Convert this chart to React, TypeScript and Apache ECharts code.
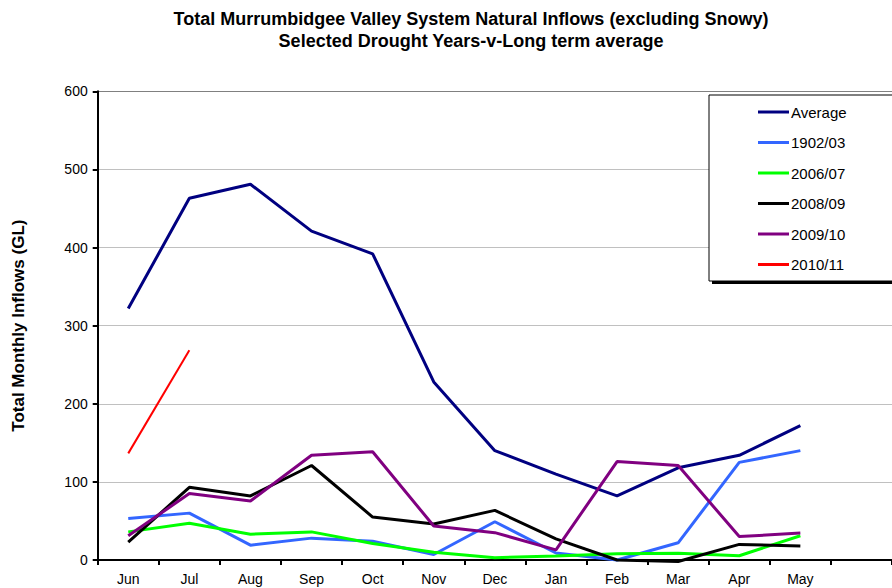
import React, { useEffect, useRef } from "react";
import * as echarts from "echarts";

const months = ["Jun", "Jul", "Aug", "Sep", "Oct", "Nov", "Dec", "Jan", "Feb", "Mar", "Apr", "May", ""];
const yTicks = [0, 100, 200, 300, 400, 500, 600];

const average = [322, 463, 481, 421, 392, 228, 140, 110, 82, 118, 134, 172];
const y1902 = [53, 60, 19, 28, 24, 7, 49, 9, 0, 22, 125, 140];
const y2006 = [36, 47, 33, 36, 21, 10, 3, 5, 8, 8.5, 5.5, 31];
const y2008 = [23, 93, 82, 121, 55, 46, 63.5, 27, 0, -2, 20, 18];
const y2009 = [31, 85, 75.5, 134, 138.5, 43.5, 35, 13, 126, 121, 30, 34.5];
const y2010 = [136.5, 268.6];

const seriesNames = ["Average", "1902/03", "2006/07", "2008/09", "2009/10", "2010/11"];
const seriesColors = ["#000080", "#3366FF", "#00FF00", "#000000", "#800080", "#FF0000"];
const seriesWidths = [3, 3, 3, 3, 3, 2];
const seriesData = [average, y1902, y2006, y2008, y2009, y2010];

export default function App() {
  const ref = useRef<HTMLDivElement>(null);
  useEffect(() => {
    document.body.style.margin = "0";
    if (!ref.current) return;
    const chart = echarts.init(ref.current, undefined, { renderer: "svg" });
    const font = "Arial, 'Liberation Sans', sans-serif";
    chart.setOption({
      animation: false,
      backgroundColor: "#ffffff",
      textStyle: { fontFamily: font },
      title: {
        text: "Total Murrumbidgee Valley System Natural Inflows (excluding Snowy)\nSelected Drought Years-v-Long term average",
        left: 466,
        top: 3,
        textAlign: "center",
        textStyle: { fontFamily: font, fontSize: 18, fontWeight: "bold", color: "#000", lineHeight: 22 },
      },
      graphic: [
        { type: "rect", z: 3, shape: { x: 712, y: 98, width: 300, height: 186 }, style: { fill: "#000" } },
        { type: "rect", z: 3, shape: { x: 709, y: 95, width: 300, height: 186 }, style: { fill: "#fff", stroke: "#000", lineWidth: 1 } },
      ],
      legend: {
        z: 10,
        orient: "vertical",
        left: 753,
        top: 99,
        icon: "rect",
        itemWidth: 31,
        itemHeight: 3,
        itemGap: 14.5,
        textStyle: { fontFamily: font, fontSize: 15, lineHeight: 16, color: "#000", padding: [0, 0, 0, -3] },
        data: seriesNames,
      },
      grid: { left: 97.7, top: 91.3, width: 13 * 61.7, height: 468.7, containLabel: false },
      xAxis: {
        type: "category",
        data: months,
        boundaryGap: true,
        axisLine: { lineStyle: { color: "#000", width: 2 } },
        axisTick: { show: true, length: 5, lineStyle: { color: "#000", width: 2 } },
        axisLabel: { fontFamily: font, fontSize: 14, color: "#000", margin: 12, interval: 0 },
        splitLine: { show: false },
      },
      yAxis: {
        type: "value",
        min: 0,
        max: 600,
        interval: 100,
        name: "Total Monthly Inflows (GL)",
        nameLocation: "middle",
        nameGap: 71,
        nameTextStyle: { fontFamily: font, fontSize: 17, fontWeight: "bold", color: "#000" },
        axisLine: { show: true, lineStyle: { color: "#000", width: 2 } },
        axisTick: { show: true, length: 5, lineStyle: { color: "#000", width: 2 } },
        axisLabel: {
          fontFamily: font,
          fontSize: 14,
          color: "#000",
          margin: 10,
          formatter: (v: number) => (yTicks.includes(v) ? String(v) : ""),
        },
        splitLine: {
          show: true,
          lineStyle: { color: ["#c0c0c0", "#c0c0c0", "#c0c0c0", "#c0c0c0", "#c0c0c0", "#c0c0c0", "#808080"], width: 1 },
        },
      },
      series: seriesNames.map((name, i) => ({
        name,
        type: "line",
        data: seriesData[i],
        symbol: "none",
        clip: false,
        z: 2 + i,
        lineStyle: { color: seriesColors[i], width: seriesWidths[i] },
        itemStyle: { color: seriesColors[i] },
      })),
    });
    return () => chart.dispose();
  }, []);
  return <div ref={ref} style={{ width: 892, height: 588 }} />;
}
